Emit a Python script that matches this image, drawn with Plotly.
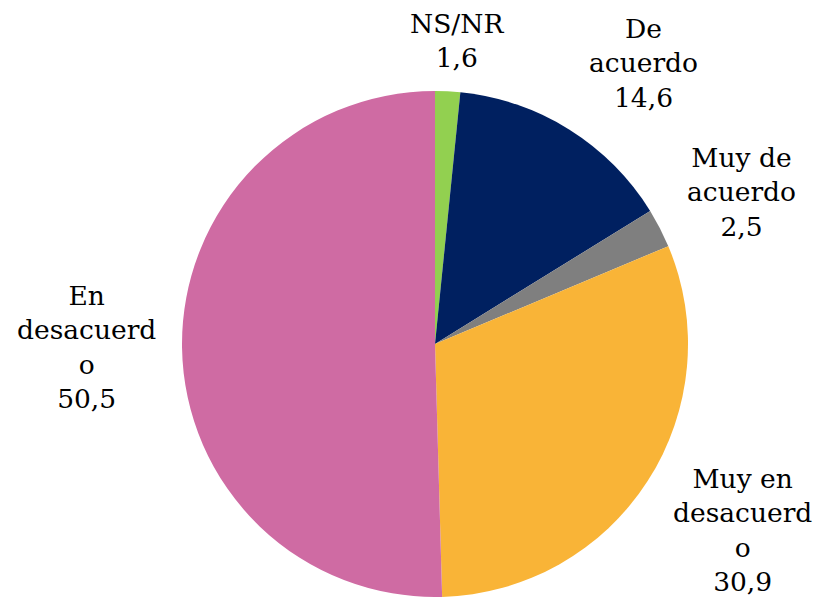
import plotly.graph_objects as go

categories = ["NS/NR", "De acuerdo", "Muy de acuerdo", "Muy en desacuerdo", "En desacuerdo"]
values = [1.6, 14.6, 2.5, 30.9, 50.5]
display_labels = ["NS/NR", "De<br>acuerdo", "Muy de<br>acuerdo", "Muy en<br>desacuerd<br>o", "En<br>desacuerd<br>o"]
colors = ["#92D050", "#002060", "#7F7F7F", "#F9B437", "#CF6BA3"]

W, H = 821, 599
# page body adds an 8px offset; positions below compensate for it
off = 8
label_pos = [(457, 40), (643, 63), (741, 192), (742, 530), (86, 347)]

cx, cy, r = 427, 336, 253
fig = go.Figure(go.Pie(
    labels=categories, values=values, sort=False, direction="clockwise", rotation=0,
    marker=dict(colors=colors, line=dict(width=0)),
    textinfo="none", hoverinfo="label+value", showlegend=False,
    domain=dict(x=[(cx - r) / W, (cx + r) / W], y=[1 - (cy + r) / H, 1 - (cy - r) / H]),
))

for lab, val, (px, py) in zip(display_labels, values, label_pos):
    fig.add_annotation(
        x=(px - off) / W, y=1 - (py - off) / H, xref="paper", yref="paper",
        text=f"{lab}<br>{val:.1f}".replace(".", ","),
        showarrow=False, xanchor="center", yanchor="middle",
        font=dict(family="DejaVu Serif", size=26.5, color="#000000"),
    )

fig.update_layout(width=W, height=H, margin=dict(l=0, r=0, t=0, b=0),
                  paper_bgcolor="white", plot_bgcolor="white")
fig.write_html("out.html")
